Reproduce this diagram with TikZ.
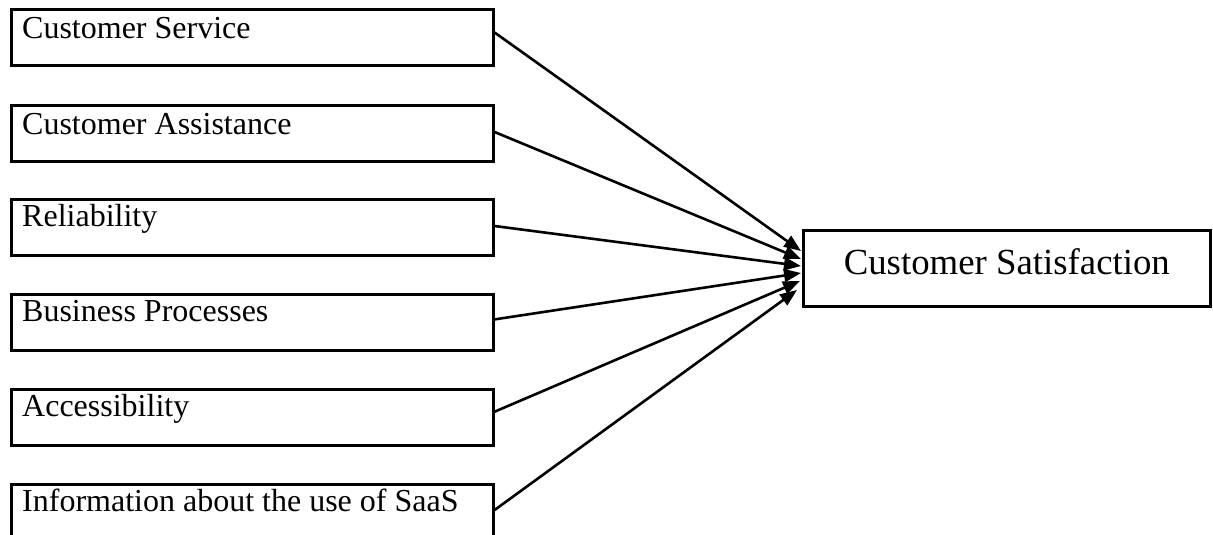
\documentclass[tikz,border=0pt]{standalone}
\usepackage{fontspec}
\setmainfont{Liberation Serif}
\usetikzlibrary{arrows.meta,calc}
\begin{document}
\begin{tikzpicture}[x=1pt,y=-1pt,
  factor/.style={draw,line width=2.6pt,rectangle,inner sep=0pt,
    minimum width=482pt,minimum height=56pt,anchor=north west},
  outcome/.style={draw,line width=2.6pt,rectangle,inner sep=0pt,
    minimum width=407pt,minimum height=76pt,anchor=north west},
  lbl/.style={inner sep=0pt,font=\fontsize{32}{38}\selectfont},
  biglbl/.style={inner sep=0pt,font=\fontsize{36.8}{44}\selectfont},
  link/.style={line width=2.6pt,-{Triangle[length=17pt,width=13pt]}}]
\useasboundingbox (0,0) rectangle (1213,535);
\clip (0,0) rectangle (1213,535);

% factor boxes on the left
\node[factor] (b1) at (10,8.5) {};
\node[factor] (b2) at (10,104.3) {};
\node[factor] (b3) at (10,198.4) {};
\node[factor] (b4) at (10,293.4) {};
\node[factor] (b5) at (10,388.2) {};
\node[factor] (b6) at (10,483) {};

\node[lbl,anchor=base west] (t1) at ($(b1.north west)+(12,29.8)$) {Customer Service};
\node[lbl,anchor=base west] (t2) at ($(b2.north west)+(12,30)$) {Customer Assistance};
\node[lbl,anchor=base west] (t3) at ($(b3.north west)+(12,28.5)$) {Reliability};
\node[lbl,anchor=base west] (t4) at ($(b4.north west)+(12,28.5)$) {Business Processes};
\node[lbl,anchor=base west] (t5) at ($(b5.north west)+(12,28)$) {Accessibility};
\node[lbl,anchor=base west] (t6) at ($(b6.north west)+(12,28.7)$) {Information about the use of SaaS};

% outcome box on the right
\node[outcome] (out) at (802,229) {};
\node[biglbl,anchor=base] (tout) at ($(out.north)+(0,45.5)$) {Customer Satisfaction};

% connector start points on the factor boxes
\coordinate (s1) at ($(b1.north east)+(0,24)$);
\coordinate (s2) at ($(b2.north east)+(0,27.7)$);
\coordinate (s3) at ($(b3.north east)+(0,27.6)$);
\coordinate (s4) at ($(b4.north east)+(0,26)$);
\coordinate (s5) at ($(b5.north east)+(0,23.5)$);
\coordinate (s6) at ($(b6.north east)+(0,27)$);

% arrow tips gathered at the outcome box
\coordinate (e1) at ($(out.north west)+(-1,22)$);
\coordinate (e2) at ($(out.north west)+(-1,30)$);
\coordinate (e3) at ($(out.north west)+(-1,37)$);
\coordinate (e4) at ($(out.north west)+(-1,44)$);
\coordinate (e5) at ($(out.north west)+(-2,52)$);
\coordinate (e6) at ($(out.north west)+(-5,61)$);

\draw[link] (s1) -- (e1);
\draw[link] (s2) -- (e2);
\draw[link] (s3) -- (e3);
\draw[link] (s4) -- (e4);
\draw[link] (s5) -- (e5);
\draw[link] (s6) -- (e6);
\end{tikzpicture}
\end{document}
